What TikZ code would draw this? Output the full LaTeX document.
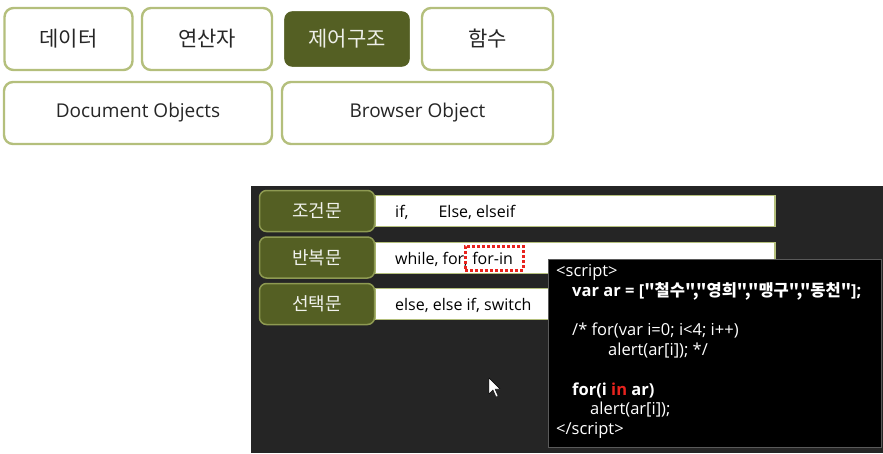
\documentclass[tikz,border=0pt]{standalone}
\usepackage{fontspec}
\setmainfont{Open Sans}
\newfontfamily\kr{Noto Sans CJK KR}
\usetikzlibrary{positioning}
\definecolor{olive}{HTML}{545F23}
\definecolor{oliveedge}{HTML}{B4BF7C}
\definecolor{labedge}{HTML}{8E9A52}
\definecolor{panel}{HTML}{252525}
\definecolor{codeedge}{HTML}{5A5A5A}
\definecolor{txt}{HTML}{262626}
\definecolor{hot}{HTML}{E8231E}

\begin{document}
\begin{tikzpicture}[
  x=1pt, y=-1pt,
  tab/.style    = {draw=oliveedge, line width=2.4pt, rounded corners=9pt, fill=white,
                   minimum height=62pt, text=txt, font=\fontsize{19}{22}\selectfont, inner sep=0pt},
  tabon/.style  = {tab, fill=olive, draw=white, text=white!90!olive, minimum height=58pt},
  lab/.style    = {draw=labedge, line width=1.5pt, rounded corners=7pt, fill=olive,
                   minimum width=115pt, minimum height=41pt, inner sep=0pt,
                   text=white!92!olive, font=\kr\fontsize{18}{20}\selectfont},
  bar/.style    = {draw=oliveedge, line width=1.2pt, fill=white, minimum width=400pt,
                   minimum height=31pt, inner sep=0pt},
  bartxt/.style = {anchor=west, text=black, font=\fontsize{16}{18}\selectfont, inner sep=0pt},
]
\useasboundingbox (0,0) rectangle (883,453);

% ---------- top tabs ----------
\node[tab, minimum width=128pt] (data) at (68.5,39) {\kr\fontsize{21}{24}\selectfont 데이터};
\node[tab, minimum width=130pt] (oper) at (207,39) {\kr\fontsize{21}{24}\selectfont 연산자};
\node[tabon, minimum width=128pt] (ctrl) at (347,39) {\kr\fontsize{21}{24}\selectfont 제어구조};
\node[tab, minimum width=131pt] (func) at (487.5,39) {\kr\fontsize{21}{24}\selectfont 함수};
\node[tab, minimum width=268pt] (docobj) at (138,113) {Document Objects};
\node[tab, minimum width=271pt] (brobj) at (417.5,113) {Browser Object};

% ---------- dark panel ----------
\fill[panel] (251,186) rectangle (883,453);

\node[bar] (ifbar) at (575,211) {};
\node[bar] (loopbar) at (575,258) {};
\node[bar] (selbar) at (575,304) {};
\node[lab] (ifl) at (317,211) {조건문};
\node[lab] (loopl) at (317,257.5) {반복문};
\node[lab] (sell) at (317,304) {선택문};

\node[bartxt] (iftxt) at (395,212) {if,\hspace{30pt}Else, elseif};
\node[bartxt] (looptxt) at (395,259) {while, for, for-in};
\node[bartxt] (seltxt) at (395,305) {else, else if, switch};
\node[draw=hot, dotted, line width=3pt, minimum width=58pt, minimum height=24pt,
      inner sep=0pt] (forin) at (494,258) {};

% ---------- code window ----------
\node[draw=codeedge, line width=1pt, fill=black, minimum width=333pt, minimum height=188pt,
      inner sep=0pt] (code) at (714.5,353) {};
\node[anchor=north west, align=left, text=white, inner sep=0pt,
      font=\fontsize{16.5}{19.8}\selectfont] (codetxt) at (556,264)
  {<script>\\
   \hspace*{16pt}\textbf{var ar = [{\kr "철수","영희","맹구","동천"}];}\\
   \mbox{}\\
   \hspace*{16pt}/* for(var i=0; i<4; i++)\\
   \hspace*{52pt}alert(ar[i]); */\\
   \mbox{}\\
   \hspace*{16pt}\textbf{for(i \textcolor{hot}{in} ar)}\\
   \hspace*{34pt}alert(ar[i]);\\
   </script>};

% mouse pointer
\fill[white, draw=black, line width=0.4pt] (489,378) -- (489,394) -- (493,390) -- (496,397)
  -- (498,396) -- (495,389) -- (500,389) -- cycle;

\end{tikzpicture}
\end{document}
